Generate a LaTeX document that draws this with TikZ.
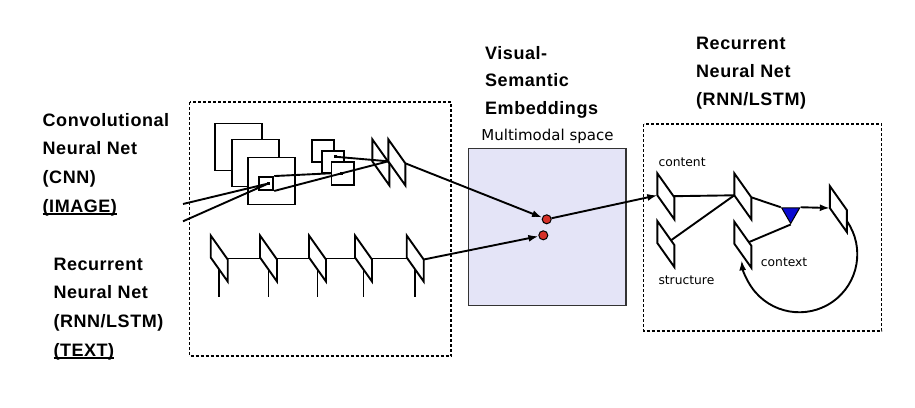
\documentclass[tikz,border=0pt]{standalone}
\usepackage{fontspec}
\setmainfont{DejaVu Sans}
\newfontfamily\headfont[LetterSpace=3]{Liberation Sans}
\usetikzlibrary{arrows.meta,shapes.geometric,backgrounds}

\definecolor{embfill}{RGB}{228,228,247}
\definecolor{dotred}{RGB}{214,48,40}
\definecolor{triblue}{RGB}{10,10,210}

\newcommand\ulabel[1]{\setbox0\hbox{#1}\rlap{\rule[-2.4pt]{\wd0}{1.3pt}}\box0}

\tikzset{
  netbox/.style={line width=1.5pt, dash pattern=on 3pt off 2pt},
  fmap/.style={draw, line width=1.9pt, fill=white, inner sep=0pt},
  unitdot/.style={fill=black, inner sep=0pt, minimum size=3pt},
  wire/.style={line width=1.9pt},
  emb/.style={circle, draw, line width=1pt, fill=dotred, inner sep=0pt, minimum size=9pt},
  headlabel/.style={anchor=north west, inner sep=0pt, align=left, font=\headfont\bfseries\fontsize{18}{28.7}\selectfont},
  smalllabel/.style={anchor=base west, inner sep=0pt, font=\fontsize{12.3}{14}\selectfont},
  cell/.pic={
    \draw[line width=1.9pt, fill=white] (0,0) -- (17,24) -- (17,46) -- (0,22) -- cycle;
    \coordinate (-c) at (8.5,23);
    \coordinate (-lb) at (0,22);
    \coordinate (-o) at (17,24);
    \coordinate (-rs) at (17,35);
  }
}

\begin{document}
\begin{tikzpicture}[x=1pt, y=-1pt, >={Latex[length=10pt,width=7pt]}]
\useasboundingbox (0,0) rectangle (915,407);

% frames
\draw[netbox] (189.5,102) rectangle (451,356);
\draw[netbox] (643.5,124) rectangle (881.5,331);

% titles
\node[headlabel] (cnnlab) at (42.5,113) {Convolutional\\Neural Net\\(CNN)\\\ulabel{(IMAGE)}};
\node[headlabel] (rnnlab) at (53.3,257.6) {Recurrent\\Neural Net\\(RNN/LSTM)\\\ulabel{(TEXT)}};
\node[headlabel, font=\headfont\bfseries\fontsize{18}{27.5}\selectfont] (vselab) at (485,46.1) {Visual-\\Semantic\\Embeddings};
\node[headlabel, font=\headfont\bfseries\fontsize{18}{28}\selectfont] (declab) at (696,37.1) {Recurrent\\Neural Net\\(RNN/LSTM)};

% CNN
\node[fmap, minimum size=47] (f1) at (238.5,147) {};
\node[fmap, minimum size=47] (f2) at (255.5,163) {};
\node[fmap, minimum size=47] (f3) at (271.5,181) {};
\node[fmap, minimum width=14, minimum height=13] (patch) at (266.3,183.5) {};
\node[fmap, minimum size=22.5] (s1) at (322.8,150.8) {};
\node[fmap, minimum size=22.5] (s2) at (333,162) {};
\node[fmap, minimum size=22.5] (s3) at (342.7,173.3) {};
\node[unitdot] (d0) at (268.3,183.5) {};
\node[unitdot] (d2) at (335,156.7) {};
\node[unitdot] (d3) at (341.7,173.3) {};
\pic (c1) at (372.3,139.3) {cell};
\pic (c2) at (388.3,139.3) {cell};
\coordinate (in1) at (183,204);
\coordinate (in2) at (183,221.3);
\draw[wire] (in1) -- (d0.center) (in2) -- (d0.center);
\draw[wire] (patch.north east) -- (s3.west);
\draw[wire] (patch.south east) -- (d3.center);
\draw[wire] (d2.center) -- (c2-lb) (d3.center) -- (c2-lb);

% text RNN
\foreach \x [count=\i] in {210.7,260,309,355,406.7}
  \pic (t\i) at (\x,235.5) {cell};
\begin{pgfonlayer}{background}
  \draw[wire] (t1-c) -- (t5-c);
  \foreach \i in {1,...,5}
    \draw[wire] (t\i-c) -- ++(0,38);
\end{pgfonlayer}

% embedding space
\node[draw=black!80, line width=1.3pt, fill=embfill, minimum width=157.7, minimum height=157.4, inner sep=0pt] (space) at (547.2,227) {};
\node[anchor=base, inner sep=0pt, font=\fontsize{15}{18}\selectfont] (mmlab) at (547.5,140.7) {Multimodal space};
\node[emb] (r1) at (546.7,219.3) {};
\node[emb] (r2) at (543.3,235.3) {};
\draw[wire, ->] (c2-o) -- (r1);
\draw[wire, ->] (t5-o) -- (r2);

% decoder RNN
\pic (a1) at (657.3,173.3) {cell};
\pic (a2) at (657.3,221) {cell};
\pic (b1) at (734.3,173.3) {cell};
\pic (b2) at (734.3,221.7) {cell};
\pic (e1) at (829.8,186) {cell};
\node[regular polygon, regular polygon sides=3, shape border rotate=180, draw, line width=1pt, fill=triblue, inner sep=0pt, minimum size=21] (gate) at (790.7,213) {};
\node[smalllabel] (contlab) at (658.3,166.7) {content};
\node[smalllabel] (strlab) at (658.3,284) {structure};
\node[smalllabel] (ctxlab) at (760.7,266.7) {context};
\begin{pgfonlayer}{background}
  \draw[wire] (a1-c) -- (b1-lb);
  \draw[wire] (a2-c) -- (b1-lb);
  \draw[wire] (gate.corner 1) -- (b2-c);
\end{pgfonlayer}
\draw[wire, ->] (r1) -- (a1-lb);
\draw[wire] (b1-o) -- (gate.corner 3);
\draw[wire, ->] (gate.corner 2) -- (e1-lb);
\draw[wire, ->] (e1-rs) arc[start angle=-35, end angle=174, radius=58];
\end{tikzpicture}
\end{document}
